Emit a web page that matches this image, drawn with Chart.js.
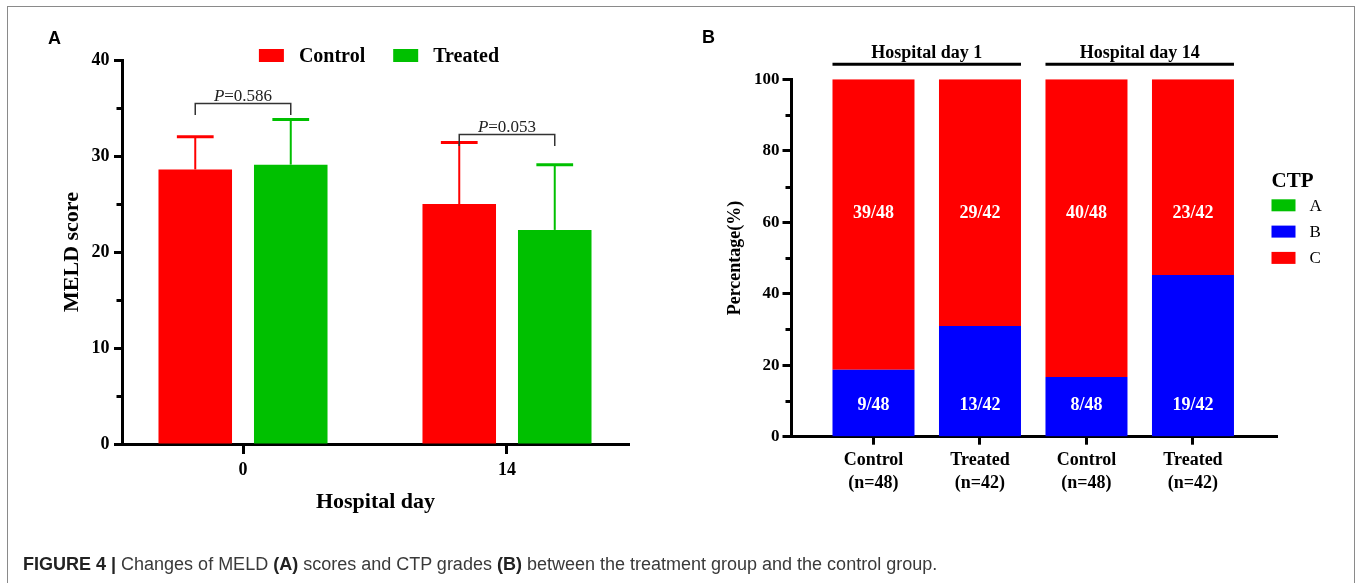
<!DOCTYPE html>
<html><head><meta charset="utf-8">
<script src="https://cdn.jsdelivr.net/npm/chart.js@4.4.1/dist/chart.umd.min.js"></script>
<style>
html,body{margin:0;padding:0;background:#fff;}
#wrap{position:relative;width:1357px;height:583px;overflow:hidden;background:#fff;}
#frame{position:absolute;left:7px;top:6px;width:1348px;height:620px;border:1px solid #8a8a8a;box-sizing:border-box;}
canvas{position:absolute;top:0;}
#cA{left:0;}
#cB{left:690px;}
.plabel{position:absolute;font:bold 18px/18px "Liberation Sans",Arial,sans-serif;color:#000;}
#cap{position:absolute;left:23px;top:555px;font:18px/18px "Liberation Sans",Arial,sans-serif;color:#3a3a3a;white-space:nowrap;}
#cap b{color:#222;}
</style></head>
<body><div id="wrap">
<div id="frame"></div>
<canvas id="cA" width="690" height="583"></canvas>
<canvas id="cB" width="667" height="583"></canvas>
<div class="plabel" style="left:48px;top:29px">A</div>
<div class="plabel" style="left:702px;top:28px">B</div>
<div id="cap"><b>FIGURE 4 |</b> Changes of MELD <b>(A)</b> scores and CTP grades <b>(B)</b> between the treatment group and the control group.</div>
</div>
<script>
// ---------- Panel A data ----------
const hospitalDays = [0, 14];
const meldControl = [28.6, 25.0];
const meldTreated = [29.1, 22.3];
const sdControl = [3.4, 6.4];
const sdTreated = [4.7, 6.8];
const pValues = ['0.586', '0.053'];
const meldTicks = [0, 10, 20, 30, 40];

// ---------- Panel B data ----------
const groupNames = ['Control', 'Treated', 'Control', 'Treated'];
const groupSizes = ['(n=48)', '(n=42)', '(n=48)', '(n=42)'];
const gradeA = [0, 0, 0, 0];
const gradeB = [18.75, 30.95, 16.67, 45.24];
const gradeC = [81.25, 69.05, 83.33, 54.76];
const countsB = ['9/48', '13/42', '8/48', '19/42'];
const countsC = ['39/48', '29/42', '40/48', '23/42'];
const dayGroups = ['Hospital day 1', 'Hospital day 14'];

const SERIF = '"Liberation Serif","Times New Roman",serif';
const RED = '#FF0000', GREEN = '#00C000', BLUE = '#0000FF';

// ---------- plugins ----------
const minorTicks = {
  id: 'minorTicks',
  afterDraw(chart, args, o) {
    const y = chart.scales.y, ctx = chart.ctx, left = chart.chartArea.left;
    ctx.save();
    ctx.strokeStyle = '#000'; ctx.lineWidth = 3;
    for (let i = 1; i < y.ticks.length; i++) {
      const v = (y.ticks[i].value + y.ticks[i - 1].value) / 2;
      const py = Math.round(y.getPixelForValue(v)) + 0.5;
      ctx.beginPath(); ctx.moveTo(left - 1.5 - o.len, py); ctx.lineTo(left, py); ctx.stroke();
    }
    ctx.restore();
  }
};

const errorBars = {
  id: 'errorBars',
  afterDatasetsDraw(chart) {
    const ctx = chart.ctx, y = chart.scales.y;
    ctx.save();
    chart.data.datasets.forEach((ds, i) => {
      const meta = chart.getDatasetMeta(i);
      meta.data.forEach((bar, j) => {
        const top = y.getPixelForValue(ds.data[j].y + ds.errorPlus[j]);
        ctx.strokeStyle = ds.backgroundColor;
        ctx.lineWidth = 2;
        ctx.beginPath(); ctx.moveTo(bar.x, bar.y); ctx.lineTo(bar.x, top); ctx.stroke();
        ctx.lineWidth = 3;
        ctx.beginPath(); ctx.moveTo(bar.x - bar.width / 4, top); ctx.lineTo(bar.x + bar.width / 4, top); ctx.stroke();
      });
    });
    ctx.restore();
  }
};

const brackets = {
  id: 'brackets',
  afterDatasetsDraw(chart, args, o) {
    const ctx = chart.ctx, y = chart.scales.y;
    const m0 = chart.getDatasetMeta(0), m1 = chart.getDatasetMeta(1);
    ctx.save();
    o.levels.forEach((lv, k) => {
      const x1 = m0.data[k].x, x2 = m1.data[k].x;
      const yl = Math.round(y.getPixelForValue(lv)) + 0.5;
      ctx.strokeStyle = '#333'; ctx.lineWidth = 1.5;
      ctx.beginPath();
      ctx.moveTo(x1, yl + o.leg); ctx.lineTo(x1, yl); ctx.lineTo(x2, yl); ctx.lineTo(x2, yl + o.leg);
      ctx.stroke();
      const rest = '=' + o.texts[k];
      ctx.font = 'italic 17px ' + SERIF; const wP = ctx.measureText('P').width;
      ctx.font = '17px ' + SERIF; const wR = ctx.measureText(rest).width;
      const sx = (x1 + x2) / 2 - (wP + wR) / 2, by = yl - 3;
      ctx.fillStyle = '#222'; ctx.textBaseline = 'alphabetic'; ctx.textAlign = 'left';
      ctx.font = 'italic 17px ' + SERIF; ctx.fillText('P', sx, by);
      ctx.font = '17px ' + SERIF; ctx.fillText(rest, sx + wP, by);
    });
    ctx.restore();
  }
};

const legendA = {
  id: 'legendA',
  afterDraw(chart, args, o) {
    const ctx = chart.ctx, ca = chart.chartArea;
    ctx.save();
    ctx.font = 'bold 20px ' + SERIF;
    const items = chart.data.datasets.map(d => ({t: d.label, c: d.backgroundColor, w: ctx.measureText(d.label).width}));
    const total = items.reduce((s, it) => s + o.box + o.gap + it.w, 0) + o.spacing * (items.length - 1);
    let x = (ca.left + ca.right) / 2 + o.dx - total / 2;
    const cy = ca.top + o.dy;
    items.forEach(it => {
      ctx.fillStyle = it.c; ctx.fillRect(x, cy - o.boxH / 2, o.box, o.boxH);
      ctx.fillStyle = '#000'; ctx.textBaseline = 'middle'; ctx.textAlign = 'left';
      ctx.fillText(it.t, x + o.box + o.gap, cy + 1);
      x += o.box + o.gap + it.w + o.spacing;
    });
    ctx.restore();
  }
};

const legendB = {
  id: 'legendB',
  afterDraw(chart, args, o) {
    const ctx = chart.ctx, ca = chart.chartArea;
    ctx.save();
    const x = ca.right + o.dx;
    ctx.fillStyle = '#000'; ctx.textBaseline = 'middle'; ctx.textAlign = 'left';
    ctx.font = 'bold 21px ' + SERIF;
    ctx.fillText(o.title, x, ca.top + o.titleDy);
    ctx.font = '17px ' + SERIF;
    chart.data.datasets.forEach((d, i) => {
      const top = ca.top + o.firstDy + i * o.step;
      ctx.fillStyle = d.backgroundColor; ctx.fillRect(x, top, o.box, o.boxH);
      ctx.fillStyle = '#000';
      ctx.fillText(d.label, x + o.box + o.gap, top + o.boxH / 2 + 1);
    });
    ctx.restore();
  }
};

const barCounts = {
  id: 'barCounts',
  afterDatasetsDraw(chart, args, o) {
    const ctx = chart.ctx, y = chart.scales.y;
    ctx.save();
    ctx.fillStyle = '#fff'; ctx.font = 'bold 18px ' + SERIF;
    ctx.textAlign = 'center'; ctx.textBaseline = 'middle';
    chart.data.datasets.forEach((ds, i) => {
      if (!ds.countLabels) return;
      const meta = chart.getDatasetMeta(i);
      meta.data.forEach((bar, j) => {
        ctx.fillText(ds.countLabels[j], bar.x, y.getPixelForValue(o.levels[i]));
      });
    });
    ctx.restore();
  }
};

const groupHeaders = {
  id: 'groupHeaders',
  afterDraw(chart, args, o) {
    const ctx = chart.ctx, ca = chart.chartArea;
    const bars = chart.getDatasetMeta(chart.data.datasets.length - 1).data;
    ctx.save();
    o.labels.forEach((lab, g) => {
      const b1 = bars[2 * g], b2 = bars[2 * g + 1];
      const x1 = b1.x - b1.width / 2, x2 = b2.x + b2.width / 2;
      const ly = ca.top + o.lineDy;
      ctx.strokeStyle = '#000'; ctx.lineWidth = 3;
      ctx.beginPath(); ctx.moveTo(x1, ly); ctx.lineTo(x2, ly); ctx.stroke();
      ctx.fillStyle = '#000'; ctx.font = 'bold 18px ' + SERIF;
      ctx.textAlign = 'center'; ctx.textBaseline = 'middle';
      ctx.fillText(lab, (x1 + x2) / 2, ca.top + o.textDy);
    });
    ctx.restore();
  }
};

const axisCommon = {
  grid: {display: true, drawOnChartArea: false, drawTicks: true, tickWidth: 3, tickColor: '#000', offset: false},
  border: {display: true, width: 3, color: '#000'}
};

// ---------- Chart A ----------
new Chart(document.getElementById('cA'), {
  type: 'bar',
  data: {
    datasets: [
      {label: 'Control', data: hospitalDays.map((d, i) => ({x: d, y: meldControl[i]})), backgroundColor: RED, errorPlus: sdControl},
      {label: 'Treated', data: hospitalDays.map((d, i) => ({x: d, y: meldTreated[i]})), backgroundColor: GREEN, errorPlus: sdTreated}
    ]
  },
  options: {
    responsive: false, animation: false, devicePixelRatio: 1,
    datasets: {bar: {categoryPercentage: 0.7235, barPercentage: 0.77}},
    layout: {padding: {left: 10, top: 60, right: 61, bottom: 50}},
    plugins: {
      legend: {display: false}, tooltip: {enabled: false},
      minorTicks: {len: 4},
      brackets: {levels: [35.55, 32.3], leg: 11.5, texts: pValues},
      legendA: {box: 25, boxH: 13, gap: 15, spacing: 28, dx: 3.5, dy: -4.5}
    },
    scales: {
      x: {
        type: 'linear', min: -6.417, max: 20.47, offset: false,
        afterBuildTicks: s => { s.ticks = hospitalDays.map(v => ({value: v})); },
        afterFit: s => { s.height = 89; },
        grid: Object.assign({}, axisCommon.grid, {tickLength: 10}),
        border: axisCommon.border,
        ticks: {font: {family: SERIF, size: 18, weight: 'bold'}, color: '#000', padding: 6, autoSkip: false, maxRotation: 0},
        title: {display: true, text: 'Hospital day', color: '#000', font: {family: SERIF, size: 22, weight: 'bold'}, padding: {top: 0, bottom: 17}}
      },
      y: {
        min: 0, max: 40,
        afterBuildTicks: s => { s.ticks = meldTicks.map(v => ({value: v})); },
        afterFit: s => { s.width = 112; },
        grid: Object.assign({}, axisCommon.grid, {tickLength: 8}),
        border: axisCommon.border,
        ticks: {font: {family: SERIF, size: 18, weight: 'bold'}, color: '#000', padding: 4.5},
        title: {display: true, text: 'MELD score', color: '#000', font: {family: SERIF, size: 22, weight: 'bold'}, padding: {top: 49, bottom: 0}}
      }
    }
  },
  plugins: [errorBars, brackets, minorTicks, legendA]
});

// ---------- Chart B ----------
const idxB = groupNames.map((_, i) => i);
new Chart(document.getElementById('cB'), {
  type: 'bar',
  data: {
    datasets: [
      {label: 'A', data: idxB.map(i => ({x: i, y: gradeA[i]})), backgroundColor: GREEN},
      {label: 'B', data: idxB.map(i => ({x: i, y: gradeB[i]})), backgroundColor: BLUE, countLabels: countsB},
      {label: 'C', data: idxB.map(i => ({x: i, y: gradeC[i]})), backgroundColor: RED, countLabels: countsC}
    ]
  },
  options: {
    responsive: false, animation: false, devicePixelRatio: 1,
    datasets: {bar: {categoryPercentage: 1, barPercentage: 0.77}},
    layout: {padding: {left: 10, top: 79.3, right: 80, bottom: 20}},
    plugins: {
      legend: {display: false}, tooltip: {enabled: false},
      minorTicks: {len: 4},
      barCounts: {levels: [null, 8.9, 62.5]},
      groupHeaders: {labels: dayGroups, lineDy: -15, textDy: -26},
      legendB: {title: 'CTP', dx: -5.5, titleDy: 102.7, firstDy: 120, step: 26.3, box: 24, boxH: 12, gap: 14}
    },
    scales: {
      x: {
        type: 'linear', stacked: true, min: -0.7746, max: 3.789, offset: false,
        afterBuildTicks: s => { s.ticks = idxB.map(v => ({value: v})); },
        afterFit: s => { s.height = 126.3; },
        grid: Object.assign({}, axisCommon.grid, {tickLength: 8}),
        border: axisCommon.border,
        ticks: {font: {family: SERIF, size: 18, weight: 'bold', lineHeight: 1.28}, color: '#000', padding: 4.5,
                autoSkip: false, maxRotation: 0, callback: v => [groupNames[v], groupSizes[v]]}
      },
      y: {
        stacked: true, min: 0, max: 100,
        ticks: {stepSize: 20, font: {family: SERIF, size: 17, weight: 'bold'}, color: '#000', padding: 3},
        afterFit: s => { s.width = 91; },
        grid: Object.assign({}, axisCommon.grid, {tickLength: 8.5}),
        border: axisCommon.border,
        title: {display: true, text: 'Percentage(%)', color: '#000', font: {family: SERIF, size: 18, weight: 'bold'}, padding: {top: 24.7, bottom: 0}}
      }
    }
  },
  plugins: [barCounts, groupHeaders, minorTicks, legendB]
});
</script>
</body></html>
